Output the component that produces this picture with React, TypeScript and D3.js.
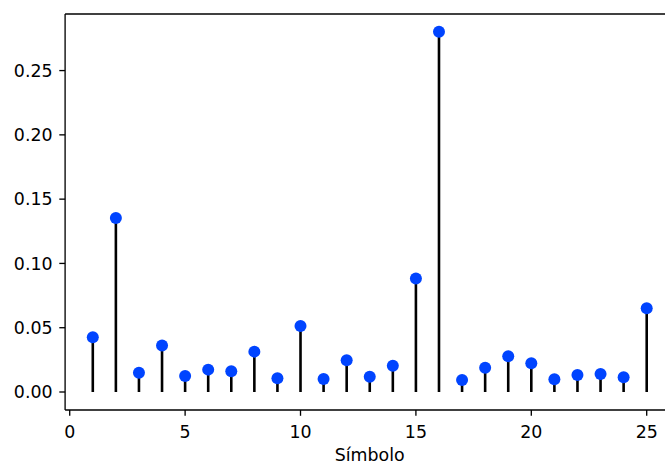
import React from "react";
import * as d3 from "d3";

const symbols = [1, 2, 3, 4, 5, 6, 7, 8, 9, 10, 11, 12, 13, 14, 15, 16, 17, 18, 19, 20, 21, 22, 23, 24, 25];
const values = [0.0426, 0.1353, 0.015, 0.0361, 0.0125, 0.0174, 0.0161, 0.0314, 0.0107, 0.0514, 0.0101, 0.0247, 0.0119, 0.0205, 0.0883, 0.2802, 0.0093, 0.0189, 0.0278, 0.0223, 0.0099, 0.0132, 0.014, 0.0114, 0.0652];
const xTicks = [0, 5, 10, 15, 20, 25];
const yTicks = [0, 0.05, 0.1, 0.15, 0.2, 0.25];
const xLabel = "Símbolo";

const W = 665;
const H = 463;
const left = 65.1;
const right = 674.4;
const top = 14;
const bottom = 410;
const FONT = "DejaVu Sans, sans-serif";
const FS = 17.4;

export default function App() {
  const x = d3.scaleLinear().domain([-0.2, 26.2]).range([left, right]);
  const y = d3.scaleLinear().domain([-0.014, 0.294]).range([bottom, top]);
  return (
    <svg width={W} height={H} style={{ position: "absolute", left: 0, top: 0, background: "#fff" }}>
      <rect x={0} y={0} width={W} height={H} fill="#fff" />
      {symbols.map((s, i) => (
        <line key={"s" + i} x1={x(s)} x2={x(s)} y1={y(0)} y2={y(values[i])} stroke="#000" strokeWidth={2.6} />
      ))}
      {symbols.map((s, i) => (
        <circle key={"c" + i} cx={x(s)} cy={y(values[i])} r={6} fill="#0044ff" />
      ))}
      <g stroke="#000" strokeWidth={1.33} fill="none">
        <line x1={left} x2={left} y1={top} y2={bottom} />
        <line x1={left} x2={right} y1={bottom} y2={bottom} />
        <line x1={left} x2={right} y1={top} y2={top} />
        <line x1={right} x2={right} y1={top} y2={bottom} />
      </g>
      {yTicks.map((t) => (
        <g key={"y" + t}>
          <line x1={left - 5.8} x2={left} y1={y(t)} y2={y(t)} stroke="#000" strokeWidth={1.33} />
          <text x={left - 12.5} y={y(t)} dy="0.36em" textAnchor="end" fontFamily={FONT} fontSize={FS} fill="#000">
            {d3.format(".2f")(t)}
          </text>
        </g>
      ))}
      {xTicks.map((t) => (
        <g key={"x" + t}>
          <line x1={x(t)} x2={x(t)} y1={bottom} y2={bottom + 5.8} stroke="#000" strokeWidth={1.33} />
          <text x={x(t)} y={437.7} textAnchor="middle" fontFamily={FONT} fontSize={FS} fill="#000">
            {t}
          </text>
        </g>
      ))}
      <text x={369.7} y={460.5} textAnchor="middle" fontFamily={FONT} fontSize={FS} fill="#000">
        {xLabel}
      </text>
    </svg>
  );
}
